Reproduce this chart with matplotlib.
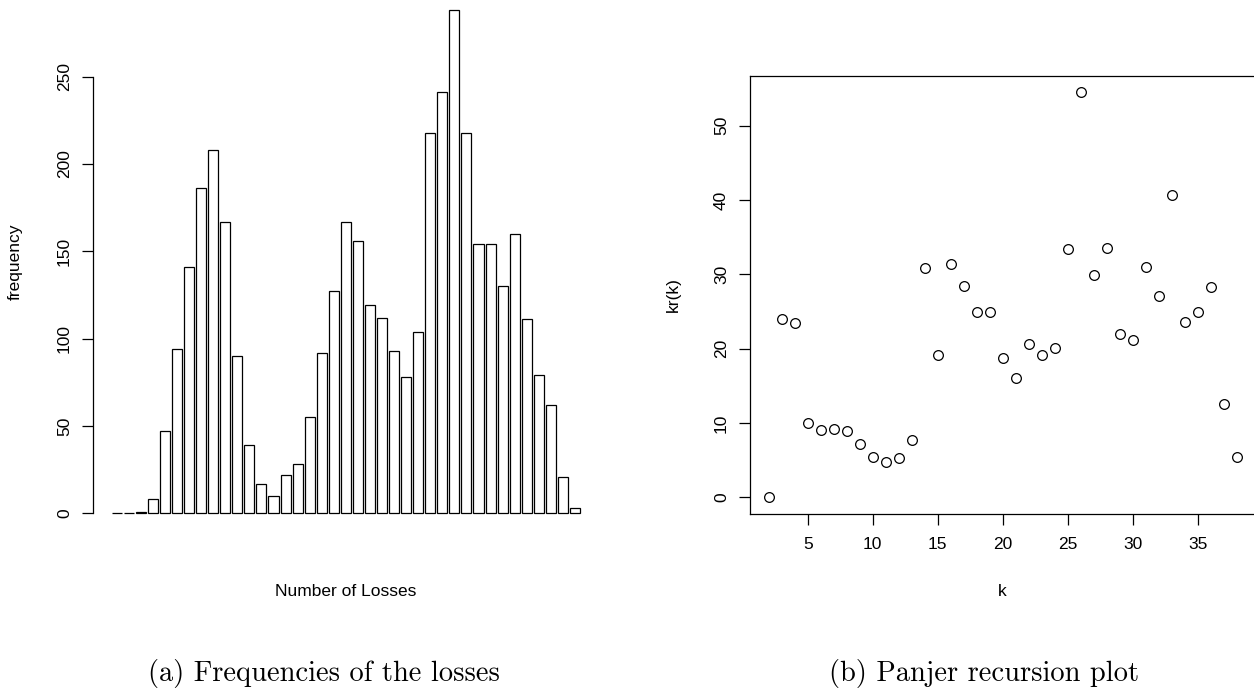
import numpy as np
import matplotlib
matplotlib.use("Agg")
import matplotlib.pyplot as plt

# ---- data ----
loss_counts = [0, 0, 1, 8, 47, 94, 141, 186, 208, 167, 90, 39, 17, 10, 22, 28, 55,
               92, 127, 167, 156, 119, 112, 93, 78, 104, 218, 241, 288, 218, 154,
               154, 130, 160, 111, 79, 62, 21, 3]
freq_ticks = [0, 50, 100, 150, 200, 250]

k_values = list(range(2, 39))
kr_values = [0.0, 24.0, 23.5, 10.0, 9.0, 9.24, 8.95, 7.2, 5.4, 4.7, 5.24, 7.65,
             30.85, 19.1, 31.42, 28.44, 24.9, 24.97, 18.7, 16.07, 20.69, 19.1,
             20.16, 33.4, 54.52, 29.88, 33.49, 21.99, 21.22, 31.04, 27.04, 40.66,
             23.58, 24.92, 28.3, 12.56, 5.43]
k_ticks = [5, 10, 15, 20, 25, 30, 35]
kr_ticks = [0, 10, 20, 30, 40, 50]

caption_a = "(a) Frequencies of the losses"
caption_b = "(b) Panjer recursion plot"

# ---- figure ----
W, H = 1254, 690
plt.rcParams['font.family'] = ['Liberation Sans', 'DejaVu Sans']
fig = plt.figure(figsize=(W / 100, H / 100), dpi=100)
fig.patch.set_facecolor('white')

FS = 12.5
LW = 0.9
TICKLEN = 8.2


def box(l, t, r, b):
    return [l / W, 1 - b / H, (r - l) / W, (b - t) / H]


# ---- left: bar plot (R barplot style, space=0.2) ----
n = len(loss_counts)
centers = 0.7 + 1.2 * np.arange(n)
x_lo, x_hi = 0.2, 1.2 * n
ext = 0.04 * (x_hi - x_lo)
ymax = max(loss_counts)

ax1 = fig.add_axes(box(93, -9.8, 598.7, 533.4))
ax1.bar(centers, loss_counts, width=1.0, facecolor='white', edgecolor='black',
        linewidth=LW)
ax1.set_xlim(x_lo - ext, x_hi + ext)
ax1.set_ylim(-0.04 * ymax, 1.04 * ymax)
for s in ['top', 'right', 'bottom']:
    ax1.spines[s].set_visible(False)
ax1.spines['left'].set_bounds(freq_ticks[0], freq_ticks[-1])
ax1.spines['left'].set_linewidth(LW)
ax1.set_xticks([])
ax1.set_yticks(freq_ticks)
ax1.set_yticklabels([str(t) for t in freq_ticks], rotation=90, va='center',
                    fontsize=FS)
ax1.tick_params(axis='y', length=TICKLEN, width=LW, pad=7)
ax1.patch.set_alpha(0)

# ---- right: scatter ----
kx_lo, kx_hi = min(k_values), max(k_values)
kext = 0.04 * (kx_hi - kx_lo)
ky_lo, ky_hi = min(kr_values), max(kr_values)
kyext = 0.04 * (ky_hi - ky_lo)

ax2 = fig.add_axes(box(750, 76.0, 1255.4, 513.5))
ax2.plot(k_values, kr_values, linestyle='none', marker='o', markersize=7,
         markerfacecolor='none', markeredgecolor='black', markeredgewidth=0.9)
ax2.set_xlim(kx_lo - kext, kx_hi + kext)
ax2.set_ylim(ky_lo - kyext, ky_hi + kyext)
for s in ax2.spines.values():
    s.set_linewidth(LW)
ax2.set_xticks(k_ticks)
ax2.set_xticklabels([str(t) for t in k_ticks], fontsize=FS)
ax2.set_yticks(kr_ticks)
ax2.set_yticklabels([str(t) for t in kr_ticks], rotation=90, va='center',
                    fontsize=FS)
ax2.tick_params(axis='x', length=TICKLEN, width=LW, pad=9)
ax2.tick_params(axis='y', length=TICKLEN, width=LW, pad=7)

# ---- axis titles ----
fig.text(15 / W, 1 - 262 / H, "frequency", rotation=90, ha='center', va='center',
         fontsize=FS)
fig.text(345.8 / W, 1 - 591 / H, "Number of Losses", ha='center', va='center',
         fontsize=FS)
fig.text(673.3 / W, 1 - 295 / H, "kr(k)", rotation=90, ha='center', va='center',
         fontsize=FS)
fig.text(1002.7 / W, 1 - 591 / H, "k", ha='center', va='center', fontsize=FS)

# ---- captions ----
fig.text(324 / W, 1 - 674 / H, caption_a, ha='center', va='center',
         fontsize=20.5, family='cmr10')
fig.text(984 / W, 1 - 674 / H, caption_b, ha='center', va='center',
         fontsize=20.5, family='cmr10')

fig.savefig("out.png", dpi=100, facecolor='white')
